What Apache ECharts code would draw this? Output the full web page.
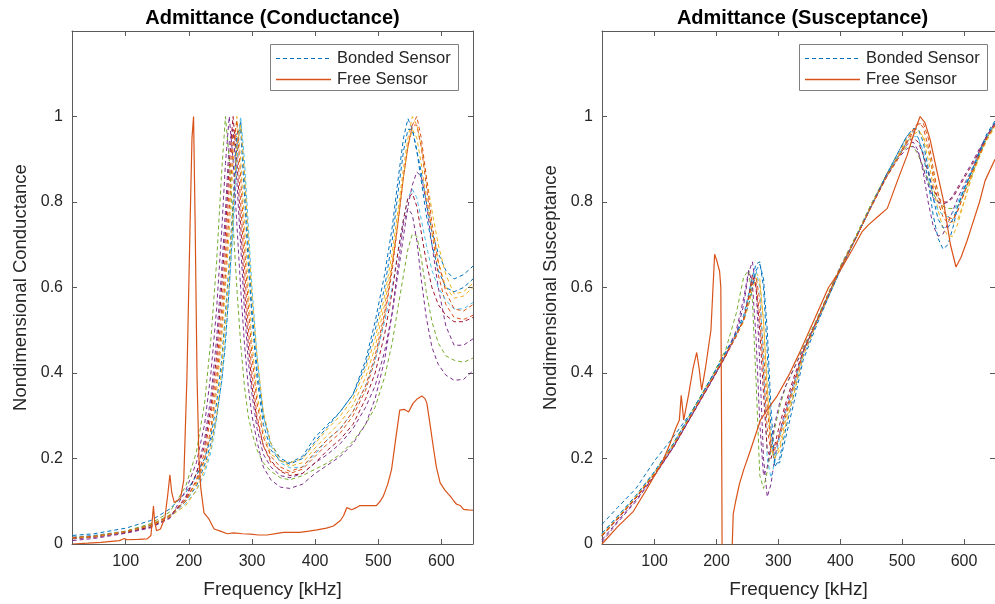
<!DOCTYPE html>
<html>
<head>
<meta charset="utf-8">
<script src="https://cdn.jsdelivr.net/npm/echarts@6/dist/echarts.min.js"></script>
<style>
html,body{margin:0;padding:0;background:#fff;}
#chart{width:995px;height:604px;}
</style>
</head>
<body>
<div id="chart"></div>
<script>
// ---------- tick labels ----------
const xTicks = [100, 200, 300, 400, 500, 600];
const yTicks = [0, 0.2, 0.4, 0.6, 0.8, 1];
const legendNames = ['Bonded Sensor', 'Free Sensor'];

// ---------- Conductance: bonded sensors (shared frequency grid, kHz) ----------
const condFreq = [16,50,100,140,170,195,212,225,235,244,252,258,264,270,276,282,288,294,300,308,318,330,345,360,380,400,420,440,460,480,495,510,522,532,540,547,554,561,568,576,585,595,607,620,635,650];
const condB1 = [.016,.02,.03,.045,.068,.1,.135,.185,.235,.3,.38,.47,.6,.76,.93,.99,.86,.7,.55,.41,.3,.235,.2,.19,.205,.25,.28,.31,.35,.43,.52,.63,.74,.86,.95,.995,.97,.92,.87,.8,.73,.68,.64,.62,.63,.65];
const condY1 = [.015,.018,.03,.045,.068,.1,.14,.195,.26,.355,.48,.6,.73,.89,1.0,.9,.75,.6,.47,.35,.26,.21,.195,.19,.2,.235,.27,.3,.34,.41,.48,.58,.68,.79,.88,.95,1.0,.98,.93,.86,.78,.7,.63,.585,.59,.61];
const condO1 = [.015,.017,.028,.042,.065,.1,.15,.215,.3,.41,.55,.68,.84,.97,.95,.8,.65,.51,.4,.3,.23,.19,.172,.165,.175,.205,.235,.26,.3,.36,.43,.53,.64,.76,.86,.93,.98,.98,.93,.84,.73,.63,.56,.53,.525,.535];
const condP1 = [.012,.016,.027,.04,.062,.105,.165,.245,.345,.48,.64,.78,.94,.97,.85,.7,.55,.43,.35,.27,.21,.18,.16,.155,.165,.19,.21,.235,.27,.32,.37,.45,.54,.64,.72,.79,.84,.87,.86,.8,.7,.6,.51,.465,.465,.48];
const condG1 = [.015,.018,.03,.048,.075,.135,.215,.33,.48,.66,.87,1.0,.9,.75,.6,.47,.37,.3,.26,.22,.19,.17,.155,.15,.16,.175,.19,.21,.24,.28,.32,.39,.47,.56,.63,.69,.725,.72,.67,.59,.52,.47,.44,.43,.425,.435];
const condL1 = [.014,.017,.028,.042,.063,.095,.125,.165,.215,.29,.38,.48,.6,.73,.89,1.0,.9,.75,.6,.44,.3,.23,.19,.178,.18,.21,.245,.27,.31,.37,.43,.52,.6,.69,.76,.81,.83,.81,.76,.7,.64,.6,.57,.55,.55,.565];
const condR1 = [.013,.016,.027,.04,.062,.11,.165,.23,.32,.44,.6,.73,.89,1.0,.9,.75,.6,.47,.37,.29,.23,.195,.17,.16,.165,.19,.22,.245,.28,.34,.4,.49,.59,.69,.76,.81,.82,.79,.73,.66,.6,.56,.535,.52,.52,.53];
const condB2 = [.02,.024,.037,.055,.082,.12,.16,.2,.25,.33,.43,.54,.66,.8,.96,.97,.82,.66,.53,.39,.28,.22,.195,.187,.2,.24,.275,.31,.35,.42,.5,.6,.71,.83,.92,.97,.97,.92,.85,.77,.7,.64,.6,.59,.6,.62];
const condY2 = [.014,.017,.029,.043,.064,.09,.125,.175,.225,.3,.41,.52,.64,.78,.93,.98,.87,.72,.58,.44,.31,.235,.195,.182,.19,.225,.255,.285,.325,.39,.46,.56,.66,.77,.86,.93,.97,.95,.89,.81,.73,.66,.6,.575,.58,.6];
const condP2 = [.008,.013,.025,.038,.06,.125,.19,.28,.4,.55,.73,.89,1.0,.9,.75,.6,.47,.37,.3,.24,.18,.15,.133,.13,.14,.165,.185,.205,.235,.28,.34,.43,.54,.66,.75,.785,.77,.71,.62,.53,.46,.42,.395,.383,.385,.405];
const condO2 = [.015,.018,.029,.044,.066,.105,.145,.2,.27,.38,.51,.63,.78,.93,.99,.86,.7,.56,.44,.33,.25,.205,.18,.17,.18,.215,.245,.27,.31,.37,.44,.54,.65,.76,.86,.93,.98,1.0,.95,.86,.75,.66,.59,.55,.545,.56];

// ---------- Conductance: free sensor ----------
const condFreeFreq = [16,40,61,90,98,102,120,134,140,144,146,149,155,162,167,170,173,177,182,187,192,197,202,205,207.5,210,213,216,219,224,232,240,250,261,271,285,298,310,324,340,350,365,376,390,403,418,429,440,445,450,458,465,471,485,497,503,508,515,521,528,534,541,548,555,562,569,574,577,582,587,592,598,606,614,620,624,630,635,642,650];
const condFreeVals = [0,.002,.004,.008,.013,.01,.011,.012,.02,.089,.05,.031,.035,.06,.12,.162,.12,.097,.102,.108,.15,.39,.75,.95,1.0,.75,.39,.2,.13,.073,.058,.035,.03,.024,.026,.024,.023,.021,.021,.025,.027,.027,.027,.03,.033,.037,.042,.055,.066,.085,.08,.085,.09,.09,.09,.1,.112,.14,.174,.25,.313,.315,.309,.329,.34,.346,.34,.329,.28,.228,.18,.143,.125,.112,.1,.093,.09,.081,.08,.079];

// ---------- Susceptance: bonded sensors ----------
const suscFreq = [15,40,70,100,130,160,190,215,232,244,252,258,264,270,276,282,288,294,302,312,325,340,360,380,400,425,450,475,495,508,518,526,534,542,550,558,566,574,582,590,600,612,625,637,650];
const suscB1 = [.046,.085,.13,.195,.25,.31,.385,.45,.495,.535,.585,.625,.655,.66,.6,.45,.27,.18,.2,.27,.35,.44,.51,.575,.64,.715,.79,.865,.92,.955,.965,.95,.91,.85,.77,.715,.69,.7,.74,.79,.83,.87,.92,.96,.99];
const suscY1 = [.02,.06,.11,.165,.23,.305,.38,.445,.49,.525,.57,.61,.635,.62,.52,.36,.22,.2,.23,.29,.36,.45,.515,.58,.645,.72,.795,.865,.915,.95,.97,.97,.95,.9,.84,.78,.74,.72,.72,.75,.8,.86,.91,.95,.98];
const suscO1 = [.018,.058,.108,.163,.228,.303,.378,.443,.488,.525,.575,.62,.625,.57,.45,.32,.23,.225,.25,.3,.37,.45,.515,.58,.645,.715,.79,.86,.91,.945,.97,.985,.975,.93,.86,.8,.765,.75,.755,.78,.82,.87,.915,.95,.98];
const suscP1 = [.005,.05,.1,.16,.225,.3,.375,.44,.49,.56,.635,.66,.6,.42,.2,.11,.14,.2,.26,.32,.38,.45,.515,.58,.645,.715,.79,.865,.91,.935,.94,.92,.87,.8,.745,.72,.725,.75,.78,.81,.84,.875,.92,.955,.985];
const suscG1 = [.02,.06,.11,.168,.235,.31,.385,.455,.54,.625,.64,.57,.38,.16,.13,.17,.22,.27,.32,.37,.41,.46,.52,.585,.65,.72,.795,.865,.91,.93,.93,.91,.88,.85,.82,.8,.79,.785,.785,.79,.82,.86,.91,.95,.98];
const suscL1 = [.025,.065,.113,.168,.232,.307,.382,.447,.492,.53,.58,.62,.64,.6,.42,.2,.155,.19,.25,.31,.37,.45,.515,.58,.645,.718,.792,.862,.912,.942,.955,.95,.92,.87,.81,.78,.77,.765,.775,.8,.835,.875,.915,.955,.985];
const suscR1 = [.02,.058,.108,.162,.226,.301,.376,.44,.486,.525,.58,.63,.6,.5,.35,.22,.2,.23,.28,.33,.39,.45,.515,.58,.645,.715,.79,.86,.91,.94,.95,.94,.91,.87,.83,.81,.8,.8,.81,.83,.855,.885,.92,.955,.985];
const suscB2 = [.025,.064,.114,.17,.234,.309,.384,.448,.493,.525,.56,.6,.64,.655,.62,.5,.32,.19,.19,.25,.33,.43,.505,.575,.64,.715,.79,.865,.92,.955,.972,.97,.94,.88,.81,.76,.74,.74,.76,.79,.83,.87,.915,.955,.985];
const suscY2 = [.022,.061,.111,.166,.23,.305,.38,.443,.488,.52,.56,.595,.622,.61,.52,.37,.23,.2,.22,.28,.35,.44,.51,.578,.643,.716,.79,.86,.91,.94,.958,.965,.955,.92,.87,.82,.78,.76,.75,.76,.8,.855,.905,.945,.975];
const suscP2 = [.01,.053,.103,.16,.226,.301,.377,.442,.5,.575,.64,.61,.48,.28,.16,.18,.23,.28,.33,.37,.41,.455,.515,.58,.645,.715,.79,.86,.905,.925,.93,.915,.88,.84,.81,.8,.795,.8,.815,.835,.86,.89,.925,.955,.985];
const suscO2 = [.02,.059,.109,.164,.229,.304,.379,.443,.488,.525,.575,.615,.61,.53,.4,.27,.215,.22,.26,.31,.375,.45,.515,.58,.645,.715,.788,.858,.905,.94,.965,.982,.985,.95,.88,.82,.78,.765,.76,.78,.82,.865,.91,.95,.98];

// ---------- Susceptance: free sensor ----------
const suscFreeFreq = [15,40,65,90,112,125,134,140,143,147,155,162,168,172,176,182,191,197,200,205,207,208.5,209.5,224,225.5,227,231,237,244,255,271,285,297,318,335,350,381,400,420,435,445,460,476,495,508,520,529,537,545,555,566,578,587,595,605,613,625,634,650];
const suscFreeVals = [0,.04,.075,.135,.19,.235,.27,.29,.348,.29,.35,.41,.448,.41,.36,.41,.5,.678,.665,.638,.6,.2,-.2,-.2,0,.07,.1,.14,.174,.22,.29,.32,.344,.398,.45,.499,.6,.64,.69,.73,.746,.765,.785,.86,.909,.965,1.0,.985,.947,.88,.808,.7,.648,.67,.71,.746,.8,.85,.9];

// ---------- colours (MATLAB default order) ----------
const C = {blue:'#0072BD', orange:'#D95319', yellow:'#EDB120', purple:'#7E2F8E', green:'#77AC30', lightBlue:'#4DBEEE', darkRed:'#A2142F'};
const bondedColors = [C.blue, C.yellow, C.orange, C.purple, C.green, C.lightBlue, C.darkRed, C.blue, C.yellow, C.purple, C.orange];
const condBonded = [condB1, condY1, condO1, condP1, condG1, condL1, condR1, condB2, condY2, condP2, condO2];
const suscBonded = [suscB1, suscY1, suscO1, suscP1, suscG1, suscL1, suscR1, suscB2, suscY2, suscP2, suscO2];

const FONT = '"Liberation Sans", Arial, Helvetica, sans-serif';
const FRAME = '#5a5a5a';
const TXT = '#262626';
const DASH = [4,3];

function bondedSeries(freq, arr, color, gi) {
  return {
    type:'line', name:legendNames[0], xAxisIndex: gi*2, yAxisIndex: gi*2,
    data: freq.map((f,j)=>[f, arr[j]]), symbol:'none', showSymbol:false,
    lineStyle:{color:color, width:1, type:DASH}, itemStyle:{color:color},
    z:2, silent:true, clip:true
  };
}
function freeSeries(freq, vals, gi) {
  return {
    type:'line', name:legendNames[1], xAxisIndex: gi*2, yAxisIndex: gi*2,
    data: freq.map((f,j)=>[f, vals[j]]), symbol:'none', showSymbol:false,
    lineStyle:{color:C.orange, width:1.2, type:'solid'}, itemStyle:{color:C.orange},
    z:3, silent:true, clip:true
  };
}

const series = [];
condBonded.forEach((a,i)=>series.push(bondedSeries(condFreq, a, bondedColors[i], 0)));
series.push(freeSeries(condFreeFreq, condFreeVals, 0));
suscBonded.forEach((a,i)=>series.push(bondedSeries(suscFreq, a, bondedColors[i], 1)));
series.push(freeSeries(suscFreeFreq, suscFreeVals, 1));

function xAxes(gi) {
  const base = {gridIndex:gi, type:'value', min:15, max:650, splitNumber:6, splitLine:{show:false}};
  return [
    Object.assign({}, base, {
      position:'bottom',
      axisLine:{show:true, onZero:false, lineStyle:{color:FRAME, width:1}},
      axisTick:{show:true, inside:true, length:5, customValues:xTicks, lineStyle:{color:FRAME}},
      axisLabel:{show:true, customValues:xTicks, fontSize:16, color:TXT, fontFamily:FONT, margin:10},
      name:'Frequency [kHz]', nameLocation:'middle', nameGap:36,
      nameTextStyle:{fontSize:19, color:TXT, fontFamily:FONT}
    }),
    Object.assign({}, base, {
      position:'top',
      axisLine:{show:true, onZero:false, lineStyle:{color:FRAME, width:1}},
      axisTick:{show:true, inside:true, length:5, customValues:xTicks, lineStyle:{color:FRAME}},
      axisLabel:{show:false}
    })
  ];
}
function yAxes(gi, name) {
  const base = {gridIndex:gi, type:'value', min:0, max:1.2, interval:0.2, splitLine:{show:false}};
  return [
    Object.assign({}, base, {
      position:'left',
      axisLine:{show:true, onZero:false, lineStyle:{color:FRAME, width:1}},
      axisTick:{show:true, inside:true, length:5, customValues:yTicks, lineStyle:{color:FRAME}},
      axisLabel:{show:true, customValues:yTicks, fontSize:16, color:TXT, fontFamily:FONT, margin:9},
      name:name, nameLocation:'middle', nameGap:42,
      nameTextStyle:{fontSize:18.5, color:TXT, fontFamily:FONT}
    }),
    Object.assign({}, base, {
      position:'right',
      axisLine:{show:true, onZero:false, lineStyle:{color:FRAME, width:1}},
      axisTick:{show:true, inside:true, length:5, customValues:yTicks, lineStyle:{color:FRAME}},
      axisLabel:{show:false}
    })
  ];
}

// legend box drawn as graphic group (keeps dashed sample line)
function legendGraphic(left) {
  const top = 44, w = 188, h = 46;
  return {
    type:'group', x:left, y:top, z:100,
    children:[
      {type:'rect', shape:{x:0.5, y:0.5, width:w, height:h}, style:{fill:'#fff', stroke:'#808080', lineWidth:1}},
      {type:'line', shape:{x1:6, y1:14.5, x2:61, y2:14.5}, style:{stroke:'#0072BD', lineWidth:1.2, lineDash:DASH}},
      {type:'text', x:67, y:14.5, style:{text:legendNames[0], textVerticalAlign:'middle', font:'16.5px ' + FONT, fill:TXT}},
      {type:'line', shape:{x1:6, y1:35.5, x2:61, y2:35.5}, style:{stroke:'#D95319', lineWidth:1.5, lineDash:null}},
      {type:'text', x:67, y:35.5, style:{text:legendNames[1], textVerticalAlign:'middle', font:'16.5px ' + FONT, fill:TXT}}
    ]
  };
}

const option = {
  animation:false,
  backgroundColor:'#fff',
  grid:[
    {left:72, top:31, width:401, height:517},
    {left:602, top:31, width:401, height:517}
  ],
  xAxis: xAxes(0).concat(xAxes(1)),
  yAxis: yAxes(0,'Nondimensional Conductance').concat(yAxes(1,'Nondimensional Susceptance')),
  graphic:[
    {type:'text', x:272.5, y:18, style:{text:'Admittance (Conductance)', textAlign:'center', textVerticalAlign:'middle', font:'bold 20px ' + FONT, fill:'#000'}},
    {type:'text', x:802.5, y:18, style:{text:'Admittance (Susceptance)', textAlign:'center', textVerticalAlign:'middle', font:'bold 20px ' + FONT, fill:'#000'}},
    legendGraphic(270),
    legendGraphic(799)
  ],
  series: series
};

const chart = echarts.init(document.getElementById('chart'), null, {renderer:'canvas'});
chart.setOption(option);
</script>
</body>
</html>
